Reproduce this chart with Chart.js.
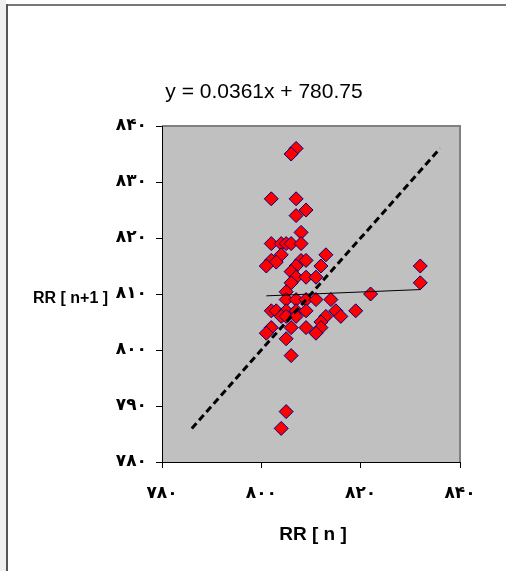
<!DOCTYPE html>
<html>
<head>
<meta charset="utf-8">
<script src="https://cdn.jsdelivr.net/npm/chart.js@4"></script>
<style>
  html, body { margin: 0; padding: 0; background: #fff; }
  #rrChart { display: block; }
</style>
</head>
<body>
<canvas id="rrChart" width="506" height="571"></canvas>
<script>
// RR[n] (x) و RR[n+1] (y)
const rrN = [807, 806, 802, 807, 809, 807, 808,
  802, 804, 805, 806, 808,
  804, 802, 803, 801, 808, 809, 813, 812, 807, 806, 807, 809, 811, 806,
  832, 832, 822, 805,
  805, 807, 809, 811, 814,
  802, 803, 805, 807, 809, 815, 819,
  804, 805, 807, 813, 816, 812,
  802, 806, 809, 812,
  801, 811, 805, 806, 805, 804];
const rrN1 = [836, 835, 827, 827, 825, 824, 821,
  819, 819, 819, 819, 819,
  817, 816, 815.7, 815, 816, 816, 817, 815, 815, 814, 813, 813, 813, 812,
  815, 812, 810, 810.4,
  809, 809, 809, 809, 809,
  807, 807, 807, 807, 807, 807, 807,
  806, 806, 806, 806, 806, 805,
  804, 804, 804, 804,
  803, 803, 802, 799, 789, 786];

// خط روند و خط y = x
const trendX = [801, 832];
const trendY = [809.67, 810.79];
const diagX = [786, 836];
const diagY = [786, 836];

const xTicks = [780, 800, 820, 840];
const yTicks = [780, 790, 800, 810, 820, 830, 840];

const titleText = 'y = 0.0361x + 780.75';
const xTitle = 'RR [ n ]';
const yTitle = 'RR [ n+1 ]';

const faDigits = '۰۱۲۳۴۵۶۷۸۹';
function toPersian(v) {
  return String(v).replace(/[0-9]/g, d => faDigits[d]);
}

function pairs(xs, ys) {
  return xs.map((x, i) => ({ x: x, y: ys[i] }));
}

// قاب بیرونی و زمینه خاکستری ناحیه نمودار
const frame = {
  id: 'frame',
  beforeDraw(chart) {
    const c = chart.ctx;
    const a = chart.chartArea;
    c.save();
    c.fillStyle = '#ffffff';
    c.fillRect(0, 0, chart.width, chart.height);
    c.fillStyle = '#f0f0f0';
    c.fillRect(0, 0, 6, chart.height);
    c.fillStyle = '#777777';
    c.fillRect(6, 4, chart.width, 2);
    c.fillStyle = '#555555';
    c.fillRect(6, 4, 2, chart.height);
    c.fillStyle = '#c0c0c0';
    c.fillRect(a.left, a.top, a.right - a.left, a.bottom - a.top);
    c.strokeStyle = '#808080';
    c.lineWidth = 2;
    c.beginPath();
    c.moveTo(a.left, a.top);
    c.lineTo(a.right, a.top);
    c.lineTo(a.right, a.bottom);
    c.stroke();
    c.restore();
  }
};

// عنوان‌ها
const labels = {
  id: 'labels',
  afterDraw(chart) {
    const c = chart.ctx;
    c.save();
    c.fillStyle = '#000';
    c.textBaseline = 'alphabetic';
    c.textAlign = 'center';
    c.font = '21px "Liberation Sans", Arial, sans-serif';
    c.fillText(titleText, 264, 98);
    c.font = 'bold 19px "Liberation Sans", Arial, sans-serif';
    c.fillText(xTitle, 313, 540);
    c.textAlign = 'left';
    c.font = 'bold 16px "Liberation Sans", Arial, sans-serif';
    c.fillText(yTitle, 33, 303);
    c.restore();
  }
};

const tickFont = { family: '"DejaVu Sans", sans-serif', size: 17, weight: 'bold' };

new Chart(document.getElementById('rrChart'), {
  type: 'scatter',
  data: {
    datasets: [
      {
        data: pairs(diagX, diagY),
        showLine: true,
        borderColor: '#000',
        borderWidth: 3,
        borderDash: [7, 4],
        pointRadius: 0,
        order: 0
      },
      {
        data: pairs(trendX, trendY),
        showLine: true,
        borderColor: '#000',
        borderWidth: 1,
        pointRadius: 0,
        order: 1
      },
      {
        data: pairs(rrN, rrN1),
        pointStyle: 'rectRot',
        pointRadius: 7,
        backgroundColor: '#ff0000',
        borderColor: '#000080',
        borderWidth: 1,
        order: 2
      }
    ]
  },
  options: {
    responsive: false,
    animation: false,
    layout: { padding: { top: 126, right: 46, left: 0, bottom: 0 } },
    plugins: {
      legend: { display: false },
      tooltip: { enabled: false }
    },
    scales: {
      x: {
        min: 780,
        max: 840,
        afterBuildTicks(s) { s.ticks = xTicks.map(v => ({ value: v })); },
        afterFit(s) { s.height = 109; },
        ticks: { color: '#000', font: tickFont, padding: 15, callback: v => toPersian(v) },
        grid: { drawOnChartArea: false, tickLength: 6, color: '#000' },
        border: { color: '#000', width: 1 }
      },
      y: {
        min: 780,
        max: 840,
        afterBuildTicks(s) { s.ticks = yTicks.map(v => ({ value: v })); },
        afterFit(s) { s.width = 162; },
        ticks: { color: '#000', font: tickFont, padding: 9, callback: v => toPersian(v) },
        grid: { drawOnChartArea: false, tickLength: 6, color: '#000' },
        border: { color: '#000', width: 1 }
      }
    }
  },
  plugins: [frame, labels]
});
</script>
</body>
</html>
